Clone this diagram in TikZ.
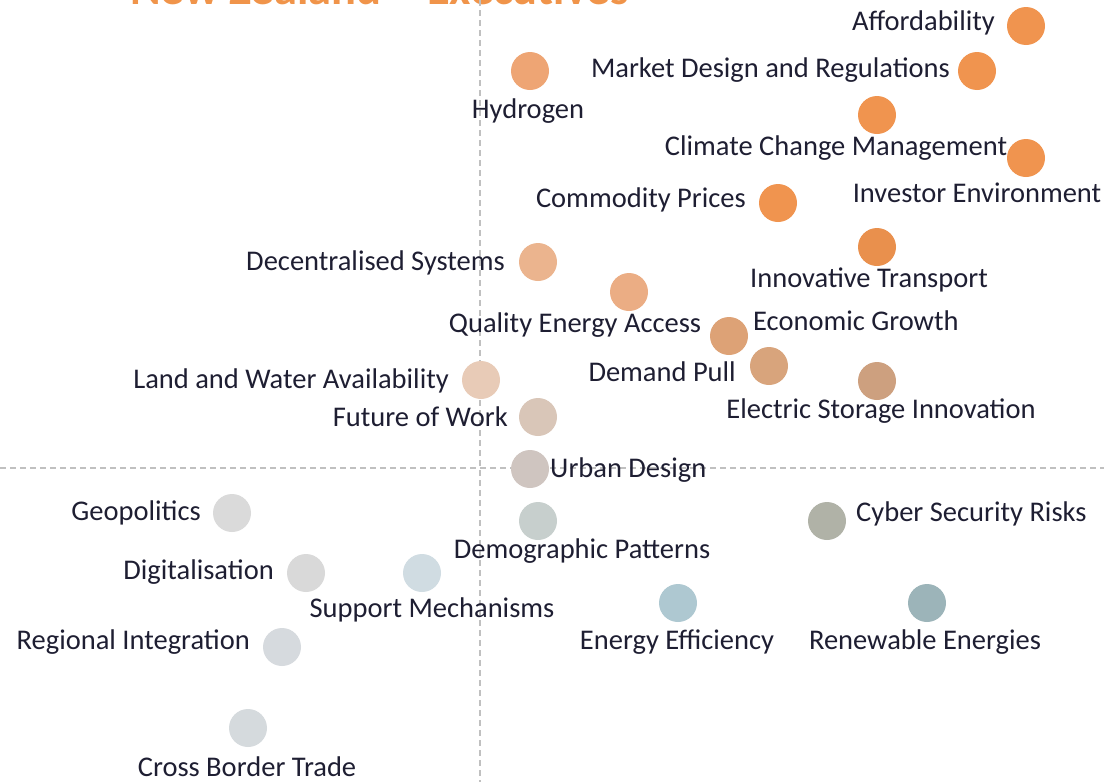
\documentclass[tikz,border=0pt]{standalone}
\usepackage{fontspec}
\setmainfont{Carlito}
\definecolor{txt}{HTML}{1E1E32}
\definecolor{ttl}{HTML}{F0944A}
\definecolor{axis}{HTML}{C0C0C0}
\definecolor{cA}{HTML}{F0944F}
\definecolor{cHy}{HTML}{EEA574}
\definecolor{cDS}{HTML}{EBB48E}
\definecolor{cQE}{HTML}{EBAD84}
\definecolor{cEG}{HTML}{DDA276}
\definecolor{cDP}{HTML}{D8A47C}
\definecolor{cES}{HTML}{CDA07F}
\definecolor{cLW}{HTML}{E8CBB7}
\definecolor{cFW}{HTML}{D9C6B8}
\definecolor{cUD}{HTML}{CFC5C0}
\definecolor{cDe}{HTML}{C7CFCD}
\definecolor{cCy}{HTML}{B0B2A7}
\definecolor{cGe}{HTML}{DADADA}
\definecolor{cDi}{HTML}{D9D9D9}
\definecolor{cSM}{HTML}{D0DCE2}
\definecolor{cRI}{HTML}{D6DADE}
\definecolor{cCB}{HTML}{D5DADD}
\definecolor{cEE}{HTML}{AEC8D1}
\definecolor{cRE}{HTML}{9CB4B9}
\tikzset{
  dotc/.style={circle, fill=#1, draw=none, minimum size=38pt, inner sep=0pt},
  lbl/.style={text=txt, inner sep=0pt, font=\fontsize{28.5}{32}\selectfont},
  axisline/.style={draw=axis, line width=2.2pt, dash pattern=on 6pt off 4pt},
}
\begin{document}
\begin{tikzpicture}[x=1pt,y=-1pt]
\useasboundingbox (0,0) rectangle (1104,782);
\clip (0,0) rectangle (1104,782);
% title (cut at top)
\node[anchor=base west, inner sep=0pt, text=ttl, font=\bfseries\fontsize{46.5}{50}\selectfont] (title) at (130,4) {New Zealand -\ \ Executives};
% axes
\coordinate (vt) at (480,0); \coordinate (vb) at (480,782);
\coordinate (hl) at (0,468); \coordinate (hr) at (1104,468);
\draw[axisline] (vt) -- (vb);
\draw[axisline] (hl) -- (hr);
% dots
\node[dotc=cA] (aff) at (1026,26) {};
\node[dotc=cA] (mdr) at (977,71) {};
\node[dotc=cHy] (hyd) at (530,71) {};
\node[dotc=cA] (ccm) at (877,115) {};
\node[dotc=cA] (inv) at (1026,158) {};
\node[dotc=cA] (com) at (778,203) {};
\node[dotc=cA!97!black] (itr) at (877,247) {};
\node[dotc=cDS] (dec) at (538,262) {};
\node[dotc=cQE] (qea) at (629,292) {};
\node[dotc=cEG] (ecg) at (729,336) {};
\node[dotc=cDP] (dpl) at (769,366) {};
\node[dotc=cES] (esi) at (877,381) {};
\node[dotc=cLW] (lwa) at (481,380) {};
\node[dotc=cFW] (fow) at (538,417) {};
\node[dotc=cUD] (urb) at (530,469) {};
\node[dotc=cDe] (dem) at (538,521) {};
\node[dotc=cCy] (cyb) at (827,521) {};
\node[dotc=cGe] (geo) at (232,513) {};
\node[dotc=cDi] (dig) at (306,573) {};
\node[dotc=cSM] (sup) at (422,573) {};
\node[dotc=cEE] (eef) at (678,603) {};
\node[dotc=cRE] (ren) at (927,603) {};
\node[dotc=cRI] (reg) at (282,647) {};
\node[dotc=cCB] (cbt) at (248,728) {};
% labels
\node[lbl, anchor=mid east] (l-aff) at (995,28) {Affordability};
\node[lbl, anchor=mid east] (l-mdr) at (950,75) {Market Design and Regulations};
\node[lbl, anchor=mid] (l-hyd) at (528,116) {Hydrogen};
\node[lbl, anchor=mid] (l-ccm) at (836,153) {Climate Change Management};
\node[lbl, anchor=mid] (l-inv) at (977,200) {Investor Environment};
\node[lbl, anchor=mid east] (l-com) at (746,205) {Commodity Prices};
\node[lbl, anchor=mid] (l-itr) at (869,285) {Innovative Transport};
\node[lbl, anchor=mid east] (l-dec) at (505,268) {Decentralised Systems};
\node[lbl, anchor=mid] (l-qea) at (575,330) {Quality Energy Access};
\node[lbl, anchor=mid west] (l-ecg) at (753,328) {Economic Growth};
\node[lbl, anchor=mid east] (l-dpl) at (736,379) {Demand Pull};
\node[lbl, anchor=mid] (l-esi) at (881,416) {Electric Storage Innovation};
\node[lbl, anchor=mid east] (l-lwa) at (449,386) {Land and Water Availability};
\node[lbl, anchor=mid east] (l-fow) at (508,424) {Future of Work};
\node[lbl, anchor=mid west] (l-urb) at (550,475) {Urban Design};
\node[lbl, anchor=mid] (l-dem) at (582,556) {Demographic Patterns};
\node[lbl, anchor=mid west] (l-cyb) at (856,519) {Cyber Security Risks};
\node[lbl, anchor=mid east] (l-geo) at (201,518) {Geopolitics};
\node[lbl, anchor=mid east] (l-dig) at (274,577) {Digitalisation};
\node[lbl, anchor=mid] (l-sup) at (432,615) {Support Mechanisms};
\node[lbl, anchor=mid] (l-eef) at (677,647) {Energy Efficiency};
\node[lbl, anchor=mid] (l-ren) at (925,647) {Renewable Energies};
\node[lbl, anchor=mid east] (l-reg) at (250,647) {Regional Integration};
\node[lbl, anchor=mid] (l-cbt) at (247,774) {Cross Border Trade};
\end{tikzpicture}
\end{document}
